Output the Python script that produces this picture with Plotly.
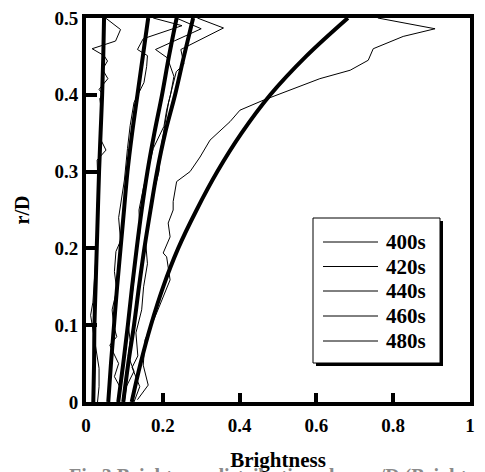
import plotly.graph_objects as go

# ---- data ----
labels = ["400s", "420s", "440s", "460s", "480s"]

fit_y = [0.0, 0.05, 0.10, 0.15, 0.20, 0.25, 0.30, 0.35, 0.40, 0.45, 0.50]
fit_400 = [0.019, 0.021, 0.022, 0.025, 0.028, 0.031, 0.034, 0.038, 0.042, 0.045, 0.047]
fit_420 = [0.058, 0.065, 0.073, 0.081, 0.090, 0.099, 0.108, 0.120, 0.134, 0.148, 0.162]
fit_440 = [0.084, 0.097, 0.109, 0.120, 0.132, 0.145, 0.160, 0.178, 0.198, 0.216, 0.236]
fit_460 = [0.097, 0.110, 0.125, 0.138, 0.152, 0.168, 0.185, 0.206, 0.232, 0.255, 0.279]
fit_480 = [0.119, 0.142, 0.169, 0.201, 0.240, 0.288, 0.342, 0.405, 0.480, 0.573, 0.682]

m400_x = [0.030, 0.034, 0.034, 0.026, 0.020, 0.012, 0.018, 0.022, 0.026, 0.030, 0.028, 0.033,
          0.030, 0.029, 0.052, 0.040, 0.038, 0.040, 0.036, 0.043, 0.034, 0.057, 0.043, 0.056,
          0.047, 0.016, 0.077, 0.090, 0.051]
m400_y = [0.000, 0.020, 0.044, 0.070, 0.090, 0.113, 0.130, 0.160, 0.190, 0.220, 0.250, 0.280,
          0.300, 0.315, 0.328, 0.340, 0.360, 0.380, 0.395, 0.401, 0.407, 0.421, 0.433, 0.444,
          0.451, 0.460, 0.470, 0.485, 0.500]

m420_x = [0.082, 0.088, 0.074, 0.085, 0.062, 0.080, 0.072, 0.068, 0.080, 0.074, 0.078, 0.090,
          0.085, 0.095, 0.100, 0.108, 0.115, 0.125, 0.151, 0.158, 0.160, 0.134, 0.149, 0.250, 0.175]
m420_y = [0.000, 0.020, 0.033, 0.050, 0.074, 0.085, 0.100, 0.120, 0.146, 0.170, 0.196, 0.210,
          0.240, 0.270, 0.289, 0.330, 0.360, 0.390, 0.416, 0.437, 0.451, 0.459, 0.473, 0.490, 0.500]

m440_x = [0.100, 0.105, 0.125, 0.110, 0.115, 0.110, 0.118, 0.125, 0.130, 0.140, 0.138, 0.150,
          0.160, 0.175, 0.203, 0.210, 0.220, 0.229, 0.212, 0.181, 0.300, 0.235]
m440_y = [0.000, 0.020, 0.040, 0.060, 0.080, 0.100, 0.130, 0.160, 0.190, 0.220, 0.250, 0.280,
          0.300, 0.330, 0.359, 0.380, 0.400, 0.424, 0.448, 0.459, 0.486, 0.500]

m460_x = [0.125, 0.140, 0.120, 0.135, 0.130, 0.145, 0.150, 0.160, 0.155, 0.165, 0.175, 0.190,
          0.195, 0.205, 0.215, 0.225, 0.235, 0.255, 0.247, 0.358, 0.290]
m460_y = [0.000, 0.020, 0.045, 0.060, 0.090, 0.120, 0.150, 0.180, 0.210, 0.240, 0.270, 0.300,
          0.330, 0.360, 0.390, 0.410, 0.430, 0.440, 0.459, 0.487, 0.500]

m480_x = [0.134, 0.162, 0.149, 0.154, 0.184, 0.201, 0.219, 0.210, 0.201, 0.219, 0.214, 0.227,
          0.227, 0.236, 0.271, 0.297, 0.323, 0.375, 0.401, 0.462, 0.531, 0.609, 0.688, 0.735,
          0.748, 0.826, 0.909, 0.809, 0.760]
m480_y = [0.003, 0.022, 0.048, 0.081, 0.116, 0.137, 0.159, 0.189, 0.194, 0.215, 0.233, 0.250,
          0.261, 0.287, 0.300, 0.319, 0.341, 0.365, 0.380, 0.393, 0.406, 0.421, 0.432, 0.445,
          0.460, 0.476, 0.486, 0.495, 0.500]

x_ticks = [0, 0.2, 0.4, 0.6, 0.8, 1]
x_tick_text = ["0", "0.2", "0.4", "0.6", "0.8", "1"]
y_ticks = [0, 0.1, 0.2, 0.3, 0.4, 0.5]
y_tick_text = ["0", "0.1", "0.2", "0.3", "0.4", "0.5"]

FONT = "Liberation Serif"
OFF = 8  # page body margin in the browser
W, H = 485 - OFF, 472 - OFF
ML, MR, MT, MB = 86 - OFF, 15, 18 - OFF, 70
PW, PH = W - ML - MR, H - MT - MB


def px_x(p):  # page pixel -> paper x
    return (p - OFF - ML) / PW


def px_y(p):  # page pixel -> paper y
    return (H - MB - (p - OFF)) / PH


fig = go.Figure()

measured = [(m400_x, m400_y), (m420_x, m420_y), (m440_x, m440_y), (m460_x, m460_y), (m480_x, m480_y)]
for lab, (mx, my) in zip(labels, measured):
    fig.add_trace(go.Scatter(x=mx, y=my, mode="lines", name=lab,
                             line=dict(color="black", width=1), showlegend=False))

for fx in [fit_400, fit_420, fit_440, fit_460, fit_480]:
    fig.add_trace(go.Scatter(x=fx, y=fit_y, mode="lines", showlegend=False,
                             line=dict(color="black", width=4, shape="spline"),
                             hoverinfo="skip"))

axis_common = dict(showline=True, linecolor="black", linewidth=4, mirror=True,
                   ticks="inside", tickcolor="black", tickwidth=4, showgrid=False,
                   zeroline=False, automargin=False, ticklabeloverflow="allow",
                   tickfont=dict(family=FONT, size=19, color="black"))

fig.update_xaxes(range=[0, 1], tickvals=x_ticks, ticktext=["<b>%s</b>" % t for t in x_tick_text],
                 ticklen=9, ticklabelstandoff=3,
                 title=dict(text="<b>Brightness</b>", font=dict(family=FONT, size=21, color="black"),
                            standoff=19),
                 **axis_common)
fig.update_yaxes(range=[0, 0.5], tickvals=y_ticks, ticktext=["<b>%s</b>" % t for t in y_tick_text],
                 ticklen=11,
                 title=dict(text="<b>r/D</b>", font=dict(family=FONT, size=20, color="black"),
                            standoff=20),
                 **axis_common)

# ---- legend box with drop shadow ----
bx0, bx1, by0, by1 = 313, 440, 218, 363
shapes = [
    dict(type="rect", xref="paper", yref="paper",
         x0=px_x(bx0 + 3), x1=px_x(bx1 + 3), y0=px_y(by1 + 3), y1=px_y(by0 + 3),
         fillcolor="black", line=dict(width=0), layer="above"),
    dict(type="rect", xref="paper", yref="paper",
         x0=px_x(bx0), x1=px_x(bx1), y0=px_y(by1), y1=px_y(by0),
         fillcolor="white", line=dict(color="black", width=1), layer="above"),
]
annotations = []
entry_py = [242.0, 266.5, 291.0, 316.0, 341.0]
for lab, ey in zip(labels, entry_py):
    shapes.append(dict(type="line", xref="paper", yref="paper",
                       x0=px_x(323), x1=px_x(378), y0=px_y(ey), y1=px_y(ey),
                       line=dict(color="black", width=1), layer="above"))
    annotations.append(dict(text="<b>%s</b>" % lab, xref="paper", yref="paper",
                            x=px_x(384), y=px_y(ey), xanchor="left", yanchor="middle",
                            showarrow=False,
                            font=dict(family=FONT, size=21, color="black")))

annotations.append(dict(text="<b>Fig.3 Brightness distribution along r/D (Brightness</b>",
                        xref="paper", yref="paper", x=px_x(67), y=px_y(463),
                        xanchor="left", yanchor="top", showarrow=False,
                        font=dict(family=FONT, size=20, color="#8a8a8a")))

fig.update_layout(
    width=W, height=H,
    margin=dict(l=ML, r=MR, t=MT, b=MB),
    plot_bgcolor="white", paper_bgcolor="white",
    showlegend=False,
    shapes=shapes,
    annotations=annotations,
)

fig.write_html("out.html")
